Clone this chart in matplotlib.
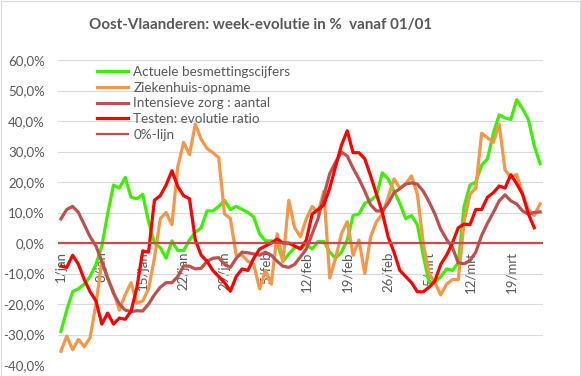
import matplotlib
matplotlib.use('Agg')
import matplotlib.pyplot as plt
from matplotlib.ticker import FuncFormatter

# ---------------- data ----------------
tick_days = [0, 7, 14, 21, 28, 35, 42, 49, 56, 63, 70, 77]
tick_labels = ['1/jan', '8/jan', '15/jan', '22/jan', '29/jan', '5/feb',
               '12/feb', '19/feb', '26/feb', '5/mrt', '12/mrt', '19/mrt']

besmettingen = [-29, -22, -16, -15, -13.5, -11, -7, -1, 9.5, 19,
                18, 21.5, 15, 14.5, 16, 7, 0, -1.5, -5, 0.7,
                -2.5, -2.5, 1, 3.5, 5, 10.5, 10.5, 12, 14, 11,
                12, 11, 10, 8.5, 3, 0.7, 0.7, 0, -6, -3.6,
                -1.5, -1.5, -0.5, -2, 0.5, 0.5, -3, -5, -3, 1,
                9, 9.5, 13, 14, 15.5, 23, 21, 17, 13, 8,
                9, 6, -4, -13, -13, -11, -8.5, -9, -6.5, 12,
                19, 20, 25.5, 27.6, 36, 42, 41, 40.5, 47, 44,
                40.5, 32, 26]

ziekenhuis = [-35.5, -30.5, -35, -31.6, -34, -31, -20, -6, -11.5, -16,
              -22, -17, -13, -19.7, -19, -15, -5, 8, 10, 6,
              25, 33, 29, 39, 34, 31, 29.6, 28, 9.5, 8,
              -4, -4, -6, -7, -15, -9, -13.5, 3, -6, 14,
              5, 2, 8, 12, 10, 17, -11.5, -5, 3, 7,
              -4, 1, -10, 2, 7, 9.5, 15, 21, 18, 19.4,
              22, 16, 0, -10, -13, -17, -13.5, -12, -12, 7,
              16, 18, 36, 34.5, 33, 39, 24, 21.4, 22.5, 16,
              11, 9, 12.8]

intensieve_zorg = [7.9, 11, 12, 10, 6, 2, -1, -6, -11.5, -16.5,
                   -20, -22, -22.5, -22.2, -22.3, -20, -17, -14.5, -13, -13,
                   -11, -7.5, -7.6, -8.5, -8.3, -6, -5, -4.8, -7, -8,
                   -5, -3, -3.2, -3.6, -4, -3, -4, -6, -7.6, -8,
                   -7, -4.5, -2, 3, 8, 15.5, 22.7, 26.5, 29.8, 28.5,
                   24.5, 21, 17, 12.5, 10.5, 10.5, 13, 16.5, 17.8, 19.3,
                   19.7, 19.3, 17, 13.5, 9.5, 4.5, 1.2, -1.5, -6.5, -6.8,
                   -5.8, -3, 2.5, 6.5, 10, 13.8, 15.8, 13.8, 12.8, 10.5,
                   9.5, 10, 10.2]

testen = [-7.6, -8, -4, -7, -12, -16, -19, -26.6, -23, -26.6,
          -24.6, -25, -22.4, -14.6, -2.6, -3, 14, 15.5, 19, 23.7,
          18.5, 15.5, 14.5, 1, -4, -6, -9, -11, -13, -15.8,
          -11, -8.5, -9, -5, -2, -1, 0, 1.3, 0, 0,
          -1, -2, 1, 9.5, 11, 12.5, 18, 25, 32, 36.8,
          29.6, 29.6, 27.6, 22, 16, 10, 2, -3, -9, -11,
          -13, -16, -16, -14.5, -12.5, -7, -4, 0, 5, 6.2,
          6, 11, 11, 15, 16.5, 18.7, 18, 22.4, 19.4, 16,
          9.5, 5]

nul_lijn = 0.0

series_names = ['Actuele besmettingscijfers', 'Ziekenhuis-opname',
                'Intensieve zorg : aantal', 'Testen: evolutie ratio', '0%-lijn']

# ---------------- style ----------------
FONT = ['Lato', 'DejaVu Sans']
plt.rcParams['font.family'] = FONT
GREY = '#595959'
W, H = 581, 376

fig = plt.figure(figsize=(W / 100, H / 100), dpi=100)
fig.patch.set_facecolor('white')
# chart border
fig.add_artist(plt.Rectangle((0.5 / W, 0.5 / H), 1 - 1.5 / W, 1 - 1.5 / H,
                             transform=fig.transFigure, fill=False,
                             edgecolor='#D9D9D9', lw=0.8))

left, right, top, bottom = 58, 543, 60, 365
ax = fig.add_axes([left / W, 1 - bottom / H, (right - left) / W, (bottom - top) / H])

x_g = list(range(len(besmettingen)))
x_z = list(range(len(ziekenhuis)))
x_i = list(range(len(intensieve_zorg)))
x_t = list(range(len(testen)))

LW = 2.3
ax.plot(x_g, besmettingen, color='#3CF000', lw=LW, label=series_names[0], zorder=3)
ax.plot(x_z, ziekenhuis, color='#F79646', lw=LW, label=series_names[1], zorder=4)
ax.plot(x_i, intensieve_zorg, color='#C0504D', lw=LW, label=series_names[2], zorder=5)
ax.plot(x_t, testen, color='#FF0000', lw=LW, label=series_names[3], zorder=6)
ax.axhline(nul_lijn, color='#C0504D', lw=1.6, label=series_names[4], zorder=7)

ax.set_xlim(-0.5, 82.5)
ax.set_ylim(-40, 60)
ax.set_yticks(range(-40, 61, 10))
ax.yaxis.set_major_formatter(FuncFormatter(lambda v, p: f"{v:.1f}%".replace('.', ',')))
ax.grid(axis='y', color='#D9D9D9', lw=0.8, zorder=0)
ax.set_axisbelow(True)
for s in ax.spines.values():
    s.set_visible(False)
ax.spines['bottom'].set_position(('data', 0))

ax.set_xticks(tick_days)
ax.set_xticklabels(tick_labels)
ax.tick_params(axis='x', length=0, pad=6, labelrotation=90, labelsize=9.5, labelcolor=GREY)
ax.tick_params(axis='y', length=0, pad=9.5, labelsize=9.5, labelcolor=GREY)

leg = ax.legend(loc='upper left', bbox_to_anchor=(97 / W, 1 - 66 / H),
                bbox_transform=fig.transFigure, frameon=False, fontsize=9.7,
                handlelength=2.3, handletextpad=0.4, labelspacing=0.27,
                borderpad=0, borderaxespad=0)
for t in leg.get_texts():
    t.set_color(GREY)

fig.text(261 / W, 1 - 25 / H, 'Oost-Vlaanderen: week-evolutie in %  vanaf 01/01',
         ha='center', va='center', fontsize=10.9, fontweight='bold', color=GREY)

fig.savefig('out.png', dpi=100)
